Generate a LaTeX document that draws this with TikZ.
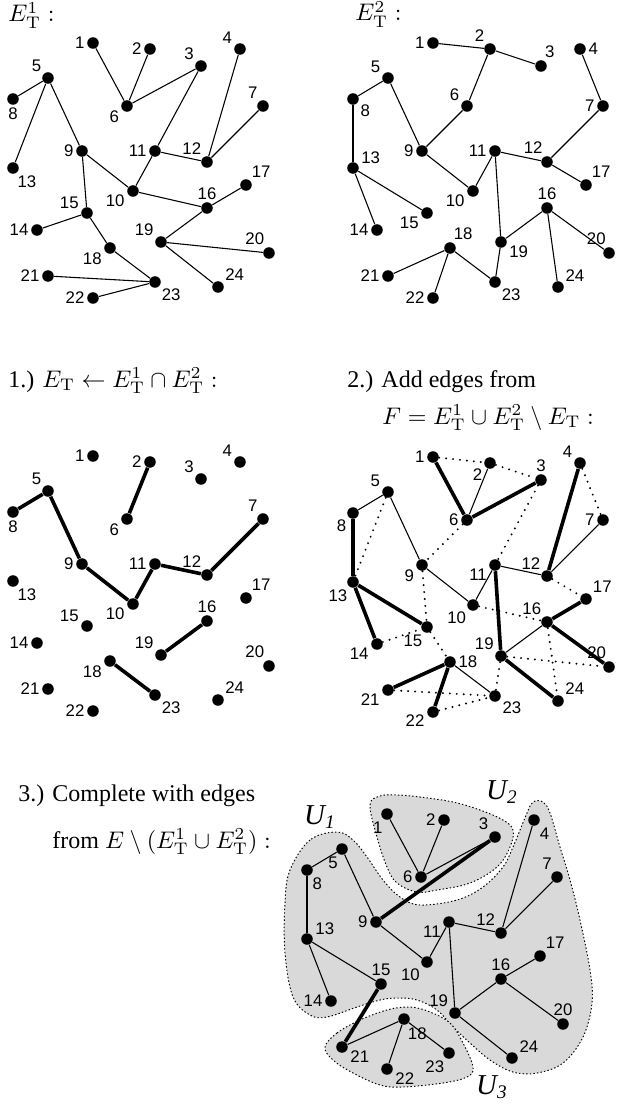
\documentclass[tikz,border=0pt]{standalone}
\usepackage[no-math]{fontspec}
\setmainfont{Liberation Serif}
\newfontfamily\numfont{Liberation Sans}
\usepackage{amsmath}
\usepackage{tikz}
\definecolor{region-gray}{HTML}{D9D9D9}
\newcommand{\vertexlist}{1/93/43, 2/150/49, 3/201/66, 4/240/49, 5/48/78, 6/127/106, 7/263/106, 8/13/99, 9/82/151, 10/133/191, 11/155/151, 12/207/162, 13/13/168, 14/37/230, 15/87/213, 16/207/208, 17/246/185, 18/110/248, 19/161/242, 20/269/253, 21/48/276, 22/93/298, 23/155/282, 24/218/287}

\begin{document}
\begin{tikzpicture}[
    x=0.4167pt, y=-0.4167pt,
    vertex/.style={circle, fill=black, inner sep=0pt, minimum size=4.8pt},
    num/.style={font=\numfont\fontsize{7}{8}\selectfont, inner sep=0.8pt, label distance=0pt},
    treeedge/.style={line width=0.45pt},
    chosen/.style={line width=1.5pt},
    candidate/.style={line width=0.9pt, dash pattern=on 0pt off 2.9pt, line cap=round},
    region/.style={fill=region-gray, draw=black, line width=0.4pt, dash pattern=on 0.6pt off 0.9pt},
    title/.style={inner sep=0pt, anchor=base west},
    setlabel/.style={font=\large\itshape, inner sep=0pt}
]
    \useasboundingbox (0,0) rectangle (618,1108);

    \node[title] (head1) at (8,22) {$E_{\mathrm{T}}^{1}:$};
    \node[title] (head2) at (355,21) {$E_{\mathrm{T}}^{2}:$};
    \node[title] (step1) at (8,387) {1.) $E_{\mathrm{T}} \leftarrow E_{\mathrm{T}}^{1} \cap E_{\mathrm{T}}^{2}:$};
    \node[title] (step2) at (347,387) {2.) Add edges from};
    \node[title] (step2b) at (382,424) {$F = E_{\mathrm{T}}^{1} \cup E_{\mathrm{T}}^{2} \setminus E_{\mathrm{T}}:$};
    \node[title] (step3) at (18,801) {3.) Complete with edges};
    \node[title] (step3b) at (52,848) {from $E \setminus (E_{\mathrm{T}}^{1} \cup E_{\mathrm{T}}^{2}):$};

    % first tree
    \begin{scope}[shift={(0,0)}]
        \foreach \n/\x/\y in \vertexlist \coordinate (v\n) at (\x,\y);
        \foreach \n/\a in {1/180, 2/180, 3/140, 4/155, 5/135, 6/205, 7/120, 8/270, 9/180, 10/195, 11/180, 12/124, 13/290, 14/180, 15/163, 16/90, 17/56, 18/198, 19/145, 20/113, 21/180, 22/180, 23/315, 24/37}
            \node[vertex, label={[num]\a:\n}] (one\n) at (v\n) {};
        \foreach \p/\q in {1/6, 2/6, 3/6, 3/11, 4/12, 7/12, 5/8, 5/13, 5/9, 9/15, 9/10, 10/11, 11/12, 10/16, 16/17, 16/19, 19/20, 19/24, 14/15, 15/18, 18/23, 21/23, 22/23}
            \draw[treeedge] (one\p) -- (one\q);
    \end{scope}

    % second tree
    \begin{scope}[shift={(340,0)}]
        \foreach \n/\x/\y in \vertexlist \coordinate (v\n) at (\x,\y);
        \foreach \n/\a in {1/180, 2/124, 3/73, 4/0, 5/151, 6/151, 7/180, 8/327, 9/180, 10/194, 11/180, 12/110, 13/19, 14/180, 15/196, 16/90, 17/57, 18/77, 19/344, 20/99, 21/180, 22/180, 23/315, 24/34}
            \node[vertex, label={[num]\a:\n}] (two\n) at (v\n) {};
        \foreach \p/\q in {1/2, 2/3, 2/6, 6/9, 4/7, 7/12, 5/8, 5/9, 8/13, 9/10, 10/11, 11/12, 12/17, 11/19, 13/14, 13/15, 16/19, 16/20, 16/24, 19/23, 18/23, 18/21, 18/22}
            \draw[treeedge] (two\p) -- (two\q);
    \end{scope}

    % step 1
    \begin{scope}[shift={(0,413)}]
        \foreach \n/\x/\y in \vertexlist \coordinate (v\n) at (\x,\y);
        \foreach \n/\a in {1/180, 2/180, 3/140, 4/155, 5/135, 6/205, 7/120, 8/270, 9/180, 10/195, 11/180, 12/124, 13/290, 14/180, 15/163, 16/90, 17/56, 18/198, 19/145, 20/113, 21/180, 22/180, 23/315, 24/37}
            \node[vertex, label={[num]\a:\n}] (cap\n) at (v\n) {};
        \foreach \p/\q in {5/8, 5/9, 9/10, 10/11, 11/12, 7/12, 2/6, 16/19, 18/23}
            \draw[chosen] (cap\p) -- (cap\q);
    \end{scope}

    % step 2
    \begin{scope}[shift={(340,414)}]
        \foreach \n/\x/\y in \vertexlist \coordinate (v\n) at (\x,\y);
        \foreach \n/\a in {1/180, 2/210, 3/90, 4/152, 5/156, 6/180, 7/180, 8/224, 9/203, 10/223, 11/199, 12/135, 13/237, 14/193, 15/248, 16/124, 17/43, 18/0, 19/143, 20/95, 21/190, 22/185, 23/325, 24/36}
            \node[vertex, label={[num]\a:\n}] (add\n) at (v\n) {};
        \foreach \p/\q in {5/8, 5/9, 9/10, 10/11, 11/12, 7/12, 2/6, 16/19, 18/23}
            \draw[treeedge] (add\p) -- (add\q);
        \foreach \p/\q in {1/6, 3/6, 4/12, 8/13, 13/14, 13/15, 11/19, 16/17, 16/20, 19/24, 18/21, 18/22}
            \draw[chosen] (add\p) -- (add\q);
        \foreach \p/\q in {1/2, 2/3, 3/11, 4/7, 5/13, 6/9, 9/15, 14/15, 15/18, 10/16, 12/17, 19/20, 16/24, 19/23, 21/23, 22/23}
            \draw[candidate] (add\p) -- (add\q);
    \end{scope}

    % step 3
    \draw[region] plot[smooth cycle, tension=0.6] coordinates {(337,832) (310,840) (290,870) (285,903) (285,953) (293,997) (310,1015) (327,1017) (357,1007) (380,1000) (397,998) (417,1000) (437,1010) (453,1027) (470,1043) (490,1060) (513,1072) (537,1073) (563,1063) (583,1037) (592,1003) (590,970) (580,920) (570,880) (560,847) (550,813) (543,802) (533,802) (527,813) (513,847) (503,867) (483,887) (457,900) (420,905) (400,897) (383,880) (367,857) (353,840)};
    \draw[region] plot[smooth cycle, tension=0.6] coordinates {(370,805) (380,796) (397,795) (420,797) (453,802) (480,810) (503,820) (513,830) (510,847) (497,867) (470,883) (437,890) (417,892) (397,883) (387,867) (377,837)};
    \draw[region] plot[smooth cycle, tension=0.6] coordinates {(325,1047) (337,1033) (360,1020) (387,1010) (410,1007) (430,1012) (450,1023) (463,1043) (473,1067) (467,1077) (443,1083) (403,1087) (380,1085) (353,1073) (333,1060)};
    \node[setlabel] (u1) at (320,817) {U\textsubscript{1}};
    \node[setlabel] (u2) at (502,792) {U\textsubscript{2}};
    \node[setlabel] (u3) at (492,1087) {U\textsubscript{3}};

    \begin{scope}[shift={(294,771)}]
        \foreach \n/\x/\y in \vertexlist \coordinate (v\n) at (\x,\y);
        \foreach \n/\a in {1/251, 2/180, 3/134, 4/303, 5/252, 6/180, 7/117, 8/302, 9/180, 10/219, 11/197, 12/125, 13/14, 14/180, 15/90, 16/92, 17/57, 18/284, 19/138, 20/90, 21/345, 22/346, 23/247, 24/33}
            \node[vertex, label={[num]\a:\n}] (fin\n) at (v\n) {};
        \foreach \p/\q in {5/8, 5/9, 9/10, 10/11, 11/12, 7/12, 2/6, 16/19, 18/23, 1/6, 3/6, 4/12, 8/13, 13/14, 13/15, 11/19, 16/17, 16/20, 19/24, 18/21, 18/22}
            \draw[treeedge] (fin\p) -- (fin\q);
        \draw[chosen] (fin3) -- (fin9);
        \draw[chosen] (fin15) -- (fin21);
    \end{scope}
\end{tikzpicture}
\end{document}
